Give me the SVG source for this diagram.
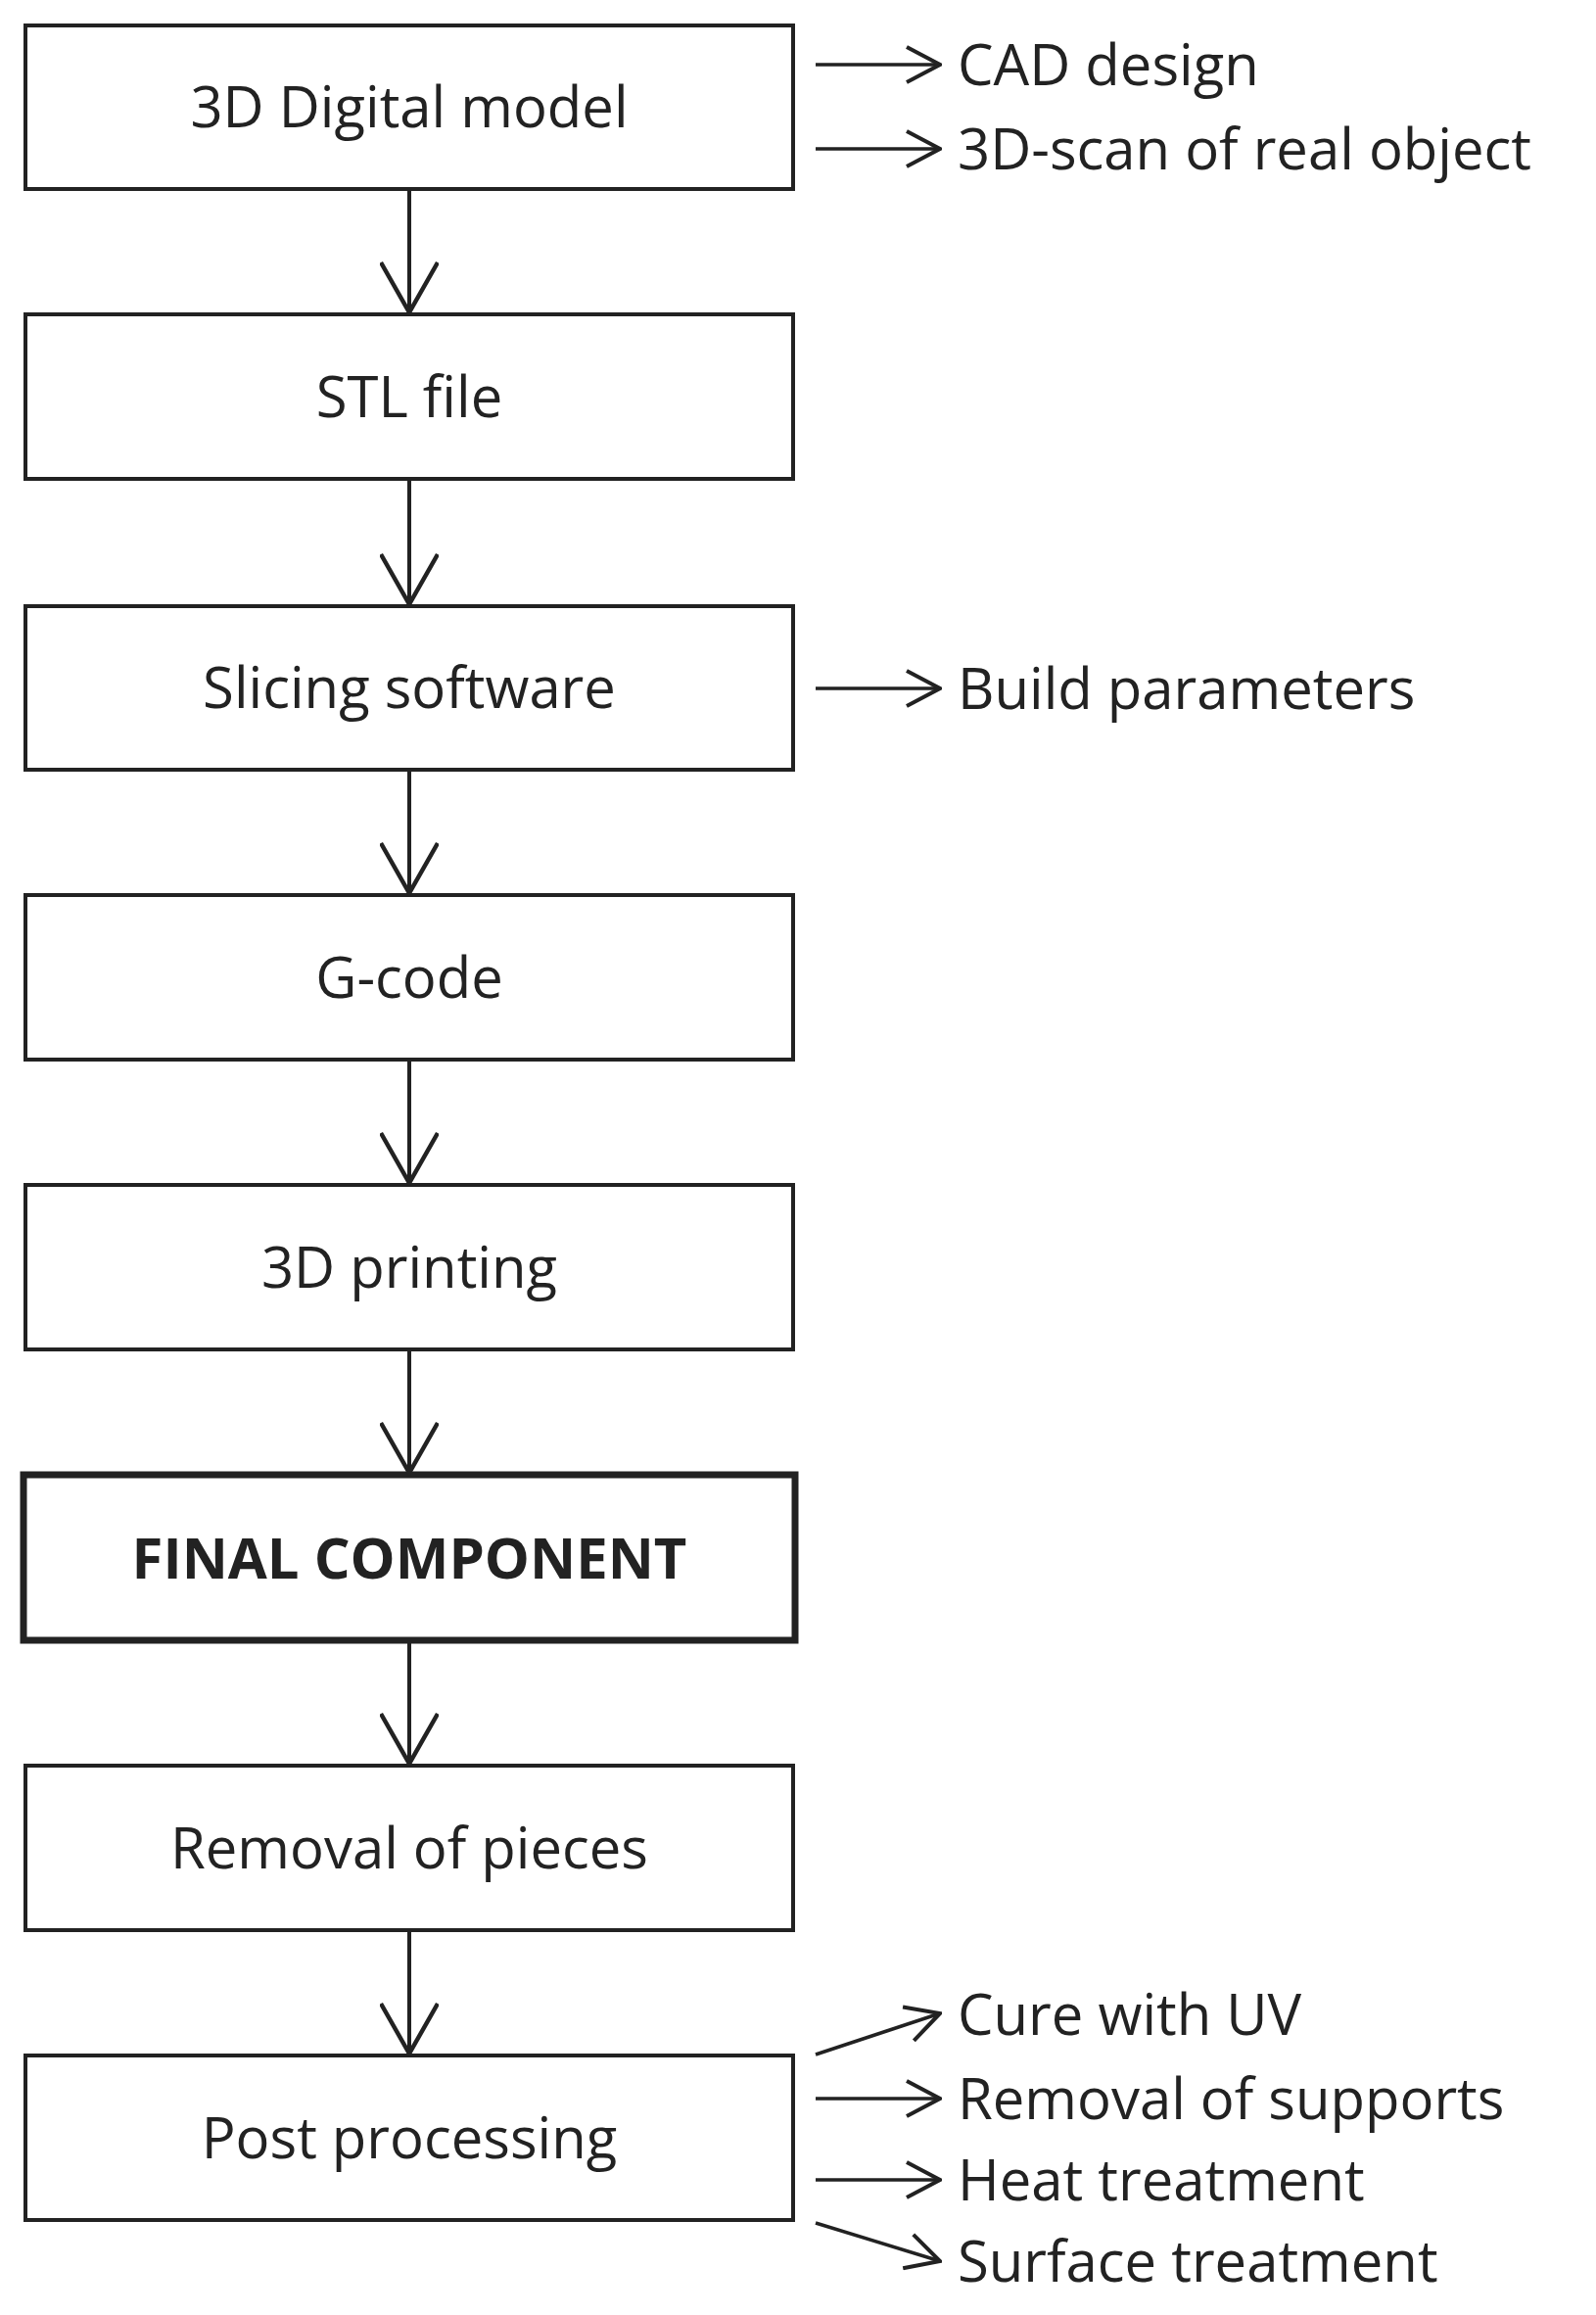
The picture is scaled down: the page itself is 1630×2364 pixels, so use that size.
<svg xmlns="http://www.w3.org/2000/svg" width="1630" height="2364" viewBox="0 0 1630 2364">
<style>
.b{fill:#fff;stroke:#222;stroke-width:4}
.t{font-family:"Open Sans",sans-serif;font-size:58px;fill:#222;text-anchor:middle}
.s{font-family:"Open Sans",sans-serif;font-size:58px;fill:#222}
</style>
<defs>
<marker id="d" viewBox="0 0 40 40" refX="38" refY="20" markerWidth="40" markerHeight="40" markerUnits="userSpaceOnUse" orient="auto"><path d="M4 2 L38 20 L4 38" fill="none" stroke="#222" stroke-width="4"/></marker>
<marker id="v" viewBox="0 0 60 60" refX="57" refY="30" markerWidth="60" markerHeight="60" markerUnits="userSpaceOnUse" orient="auto"><path d="M6 1 L57 30 L6 59" fill="none" stroke="#222" stroke-width="4.5"/></marker></defs>
<rect width="1630" height="2364" fill="#fff"/>
<g id="n1"><rect class="b" x="26" y="26" width="784" height="167"/><text class="t" x="418" y="130">3D Digital model</text></g>
<g id="n2"><rect class="b" x="26" y="321" width="784" height="168"/><text class="t" x="418" y="426">STL file</text></g>
<g id="n3"><rect class="b" x="26" y="619" width="784" height="167"/><text class="t" x="418" y="723">Slicing software</text></g>
<g id="n4"><rect class="b" x="26" y="914" width="784" height="168"/><text class="t" x="418" y="1019">G-code</text></g>
<g id="n5"><rect class="b" x="26" y="1210" width="784" height="168"/><text class="t" x="418" y="1315">3D printing</text></g>
<g id="n6"><rect class="b" x="24" y="1506" width="788" height="169" style="stroke-width:7"/><text class="t" x="418" y="1612" font-weight="bold">FINAL COMPONENT</text></g>
<g id="n7"><rect class="b" x="26" y="1803" width="784" height="168"/><text class="t" x="418" y="1908">Removal of pieces</text></g>
<g id="n8"><rect class="b" x="26" y="2099" width="784" height="168"/><text class="t" x="418" y="2204">Post processing</text></g>
<g id="labels">
<text class="s" x="978" y="87">CAD design</text>
<text class="s" x="978" y="173">3D-scan of real object</text>
<text class="s" x="978" y="724">Build parameters</text>
<text class="s" x="978" y="2078">Cure with UV</text>
<text class="s" x="978" y="2164">Removal of supports</text>
<text class="s" x="978" y="2247">Heat treatment</text>
<text class="s" x="978" y="2330">Surface treatment</text>
</g>
<g id="connectors">
<g style="stroke:#222;stroke-width:4;fill:none">
<path d="M418 193V319" marker-end="url(#v)"/>
<path d="M418 489V617" marker-end="url(#v)"/>
<path d="M418 786V912" marker-end="url(#v)"/>
<path d="M418 1082V1208" marker-end="url(#v)"/>
<path d="M418 1378V1504" marker-end="url(#v)"/>
<path d="M418 1675V1801" marker-end="url(#v)"/>
<path d="M418 1971V2097" marker-end="url(#v)"/>
</g>
<g style="stroke:#222;stroke-width:3.5;fill:none">
<path d="M833 66H960" marker-end="url(#d)"/>
<path d="M833 152H960" marker-end="url(#d)"/>
<path d="M833 703H960" marker-end="url(#d)"/>
<path d="M833 2098L960 2056" marker-end="url(#d)"/>
<path d="M833 2143H960" marker-end="url(#d)"/>
<path d="M833 2226H960" marker-end="url(#d)"/>
<path d="M833 2270L960 2309" marker-end="url(#d)"/>
</g>
</g>
</svg>
